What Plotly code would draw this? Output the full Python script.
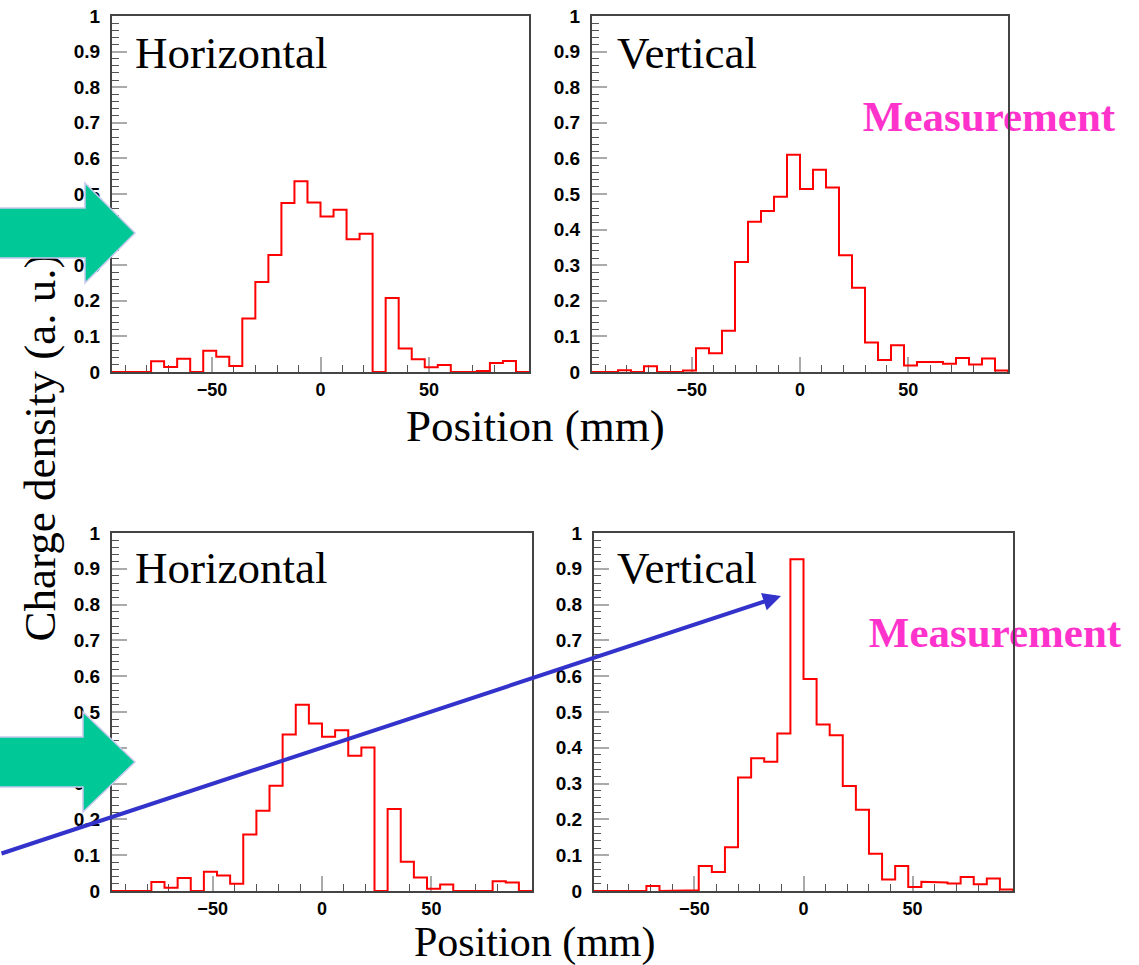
import numpy as np
import plotly.graph_objects as go

W, H = 1139, 965

# ---------------- data ----------------
bin_low, bin_high, bin_width = -96, 96, 6
horizontal_top = [0, 0, 0, 0.030, 0.014, 0.037, 0, 0.060, 0.043, 0.017, 0.150, 0.253,
                  0.329, 0.475, 0.536, 0.476, 0.437, 0.456, 0.373, 0.388, 0, 0.208,
                  0.066, 0.036, 0.013, 0.020, 0, 0, 0.003, 0.025, 0.031, 0]
vertical_top = [0, 0, 0.005, 0, 0.016, 0, 0, 0.004, 0.067, 0.053, 0.116, 0.309,
                0.422, 0.452, 0.492, 0.610, 0.514, 0.568, 0.518, 0.328, 0.237, 0.083,
                0.034, 0.075, 0.018, 0.028, 0.028, 0.023, 0.039, 0.021, 0.038, 0.004]
horizontal_bottom = [0, 0, 0, 0.025, 0.009, 0.036, 0, 0.054, 0.043, 0.020, 0.158, 0.224,
                     0.294, 0.437, 0.520, 0.468, 0.431, 0.449, 0.378, 0.401, 0, 0.229,
                     0.082, 0.038, 0.006, 0.018, 0, 0, 0, 0.027, 0.024, 0]
vertical_bottom = [0, 0, 0, 0, 0.014, 0, 0, 0.002, 0.070, 0.053, 0.122, 0.317,
                   0.371, 0.361, 0.440, 0.927, 0.592, 0.465, 0.435, 0.293, 0.227, 0.104,
                   0.032, 0.070, 0.011, 0.026, 0.024, 0.021, 0.039, 0.019, 0.035, 0.004]
x_tick_vals = [-50, 0, 50]
y_tick_vals = [0, 0.1, 0.2, 0.3, 0.4, 0.5, 0.6, 0.7, 0.8, 0.9, 1]
y_tick_text = ["0", "0.1", "0.2", "0.3", "0.4", "0.5", "0.6", "0.7", "0.8", "0.9", "1"]
panel_titles = ["Horizontal", "Vertical", "Horizontal", "Vertical"]
x_title = "Position (mm)"
y_title = "Charge density (a. u.)"
side_note = "Measurement"

series = [horizontal_top, vertical_top, horizontal_bottom, vertical_bottom]


def px(x):
    return x / W


def py(y):
    return 1 - y / H


# panel frames in pixels (left, right, top, bottom)
panels = [(112, 529, 16, 372), (592, 1008, 16, 372),
          (112, 532, 533, 891), (594, 1013, 533, 891)]

edges = np.arange(bin_low, bin_high + bin_width, bin_width)

fig = go.Figure()
layout = dict(width=W, height=H, margin=dict(l=0, r=0, t=0, b=0, pad=0),
              template="none",
              paper_bgcolor="white", plot_bgcolor="rgba(0,0,0,0)", showlegend=False)

ytickfont = dict(family="Liberation Sans", size=19, color="black", weight="bold")
xtickfont = dict(family="Liberation Sans", size=18, color="black", weight="bold")

for i, (vals, (l, r, t, b)) in enumerate(zip(series, panels)):
    n = i + 1
    xs = np.repeat(edges, 2)
    ys = np.concatenate([[0], np.repeat(vals, 2), [0]])
    fig.add_trace(go.Scatter(x=xs, y=ys, mode="lines",
                             line=dict(color="#FF0000", width=2),
                             xaxis=f"x{n}", yaxis=f"y{n}", hoverinfo="skip"))
    xa = dict(domain=[px(l), px(r)], range=[bin_low, bin_high], anchor=f"y{n}",
              automargin=False,
              showgrid=False, zeroline=False, showline=True, mirror=True,
              linecolor="#444444", linewidth=2, layer="below traces",
              tickmode="array", tickvals=x_tick_vals, ticks="inside", ticklen=15,
              tickcolor="#aaaaaa", tickwidth=1.5, tickfont=xtickfont,
              minor=dict(ticks="inside", ticklen=7, dtick=10, tick0=0,
                         tickcolor="#555555", tickwidth=1, showgrid=False))
    ya = dict(domain=[py(b), py(t)], range=[0, 1], anchor=f"x{n}",
              automargin=False,
              showgrid=False, zeroline=False, showline=True, mirror=True,
              linecolor="#444444", linewidth=2, layer="below traces",
              tickmode="array", tickvals=y_tick_vals, ticktext=y_tick_text,
              ticks="inside", ticklen=15, tickcolor="#aaaaaa", tickwidth=1.5,
              tickfont=ytickfont, ticklabelstandoff=6,
              minor=dict(ticks="inside", ticklen=7, dtick=0.02, tick0=0,
                         tickcolor="#555555", tickwidth=1, showgrid=False))
    layout[f"xaxis{n}" if n > 1 else "xaxis"] = xa
    layout[f"yaxis{n}" if n > 1 else "yaxis"] = ya

fig.update_layout(**layout)

serif = "Liberation Serif"
annotations = []
# panel titles
title_pos = [(133, 53), (615, 53), (133, 568), (615, 568)]
for txt, (x, y) in zip(panel_titles, title_pos):
    annotations.append(dict(text=txt, x=px(x), y=py(y), xref="paper", yref="paper",
                            xanchor="left", yanchor="middle", showarrow=False,
                            font=dict(family=serif, size=45, color="black")))
# x titles
for y, s in ((426, 45), (942, 42)):
    annotations.append(dict(text=x_title, x=px(535), y=py(y), xref="paper", yref="paper",
                            xanchor="center", yanchor="middle", showarrow=False,
                            font=dict(family=serif, size=s, color="black")))
# blue arrow
annotations.append(dict(text="", x=px(781), y=py(596), xref="paper", yref="paper",
                        ax=-781, ay=258, showarrow=True, arrowhead=2, arrowsize=0.9,
                        arrowwidth=4, arrowcolor="#3333CC", standoff=0))
fig.update_layout(annotations=annotations)

shapes = []
# "Measurement" labels drawn beneath the frames
for (cx, cy) in [(989, 111), (995, 627)]:
    shapes.append(dict(type="rect", xref="paper", yref="paper",
                       x0=px(cx - 150), x1=px(cx + 150), y0=py(cy + 25), y1=py(cy - 25),
                       line=dict(width=0), fillcolor="rgba(0,0,0,0)", layer="below",
                       label=dict(text=side_note, textposition="middle center",
                                  font=dict(family=serif, size=43, color="#FF33CC",
                                            weight="bold"))))
# y title (below the green arrows)
shapes.append(dict(type="rect", xref="paper", yref="paper",
                   x0=px(10), x1=px(60), y0=py(660), y1=py(235),
                   line=dict(width=0), fillcolor="rgba(0,0,0,0)", layer="above",
                   label=dict(text=y_title, textposition="middle center", textangle=-90,
                              font=dict(family=serif, size=45, color="black"))))


# green block arrows
def block_arrow(y_mid, half_shaft, half_head, x_head, x_tip):
    pts = [(-5, y_mid - half_shaft), (x_head, y_mid - half_shaft), (x_head, y_mid - half_head),
           (x_tip, y_mid), (x_head, y_mid + half_head), (x_head, y_mid + half_shaft),
           (-5, y_mid + half_shaft)]
    path = "M " + " L ".join(f"{px(x):.5f},{py(y):.5f}" for x, y in pts) + " Z"
    return dict(type="path", xref="paper", yref="paper", path=path,
                fillcolor="#00C896", line=dict(color="#C8C8F0", width=1.5), layer="above")


shapes.append(block_arrow(233, 25, 50, 85, 135))
shapes.append(block_arrow(762, 25, 50, 83, 135))
fig.update_layout(shapes=shapes)

fig.write_html("out.html")
